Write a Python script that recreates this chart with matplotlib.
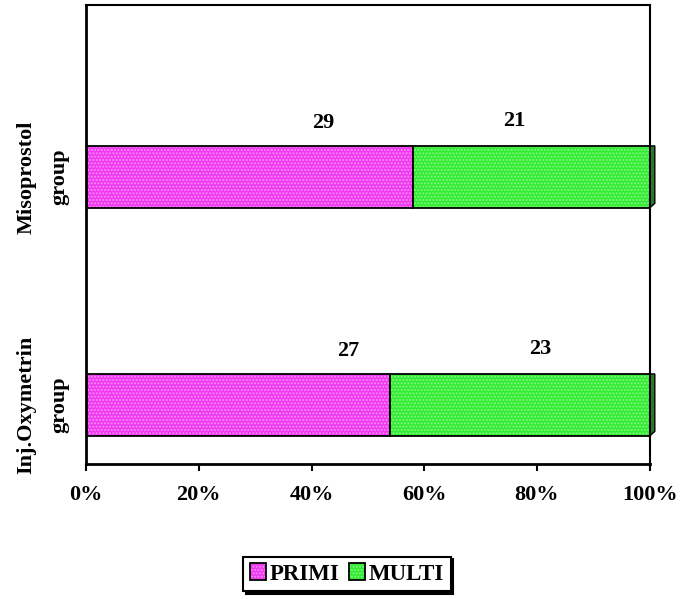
import numpy as np
import matplotlib.pyplot as plt
from matplotlib.patches import Polygon

plt.rcParams['font.family'] = ['Liberation Serif', 'DejaVu Serif']
plt.rcParams['font.weight'] = 'bold'

groups = ['Inj.Oxymetrin\ngroup', 'Misoprostol\ngroup']
primi = np.array([27, 29])
multi = np.array([23, 21])
series = ['PRIMI', 'MULTI']
colors = ['#f038f0', '#30ec30']
xticks = [0, 20, 40, 60, 80, 100]

# where the count labels sit along each bar (percent of axis)
primi_lab_x = [46.5, 42]
multi_lab_x = [80.5, 76]

total = primi + multi
p_pct = primi / total * 100
m_pct = multi / total * 100

fig = plt.figure(figsize=(6.8, 5.99), dpi=100)
ax = fig.add_axes([0.1265, 0.2254, 0.829, 0.7663])

y = np.arange(len(groups))
h = 0.272
b1 = ax.barh(y, p_pct, height=h, color=colors[0], edgecolor='black', lw=1.3,
             hatch='.....', label=series[0])
b2 = ax.barh(y, m_pct, left=p_pct, height=h, color=colors[1], edgecolor='black',
             lw=1.3, hatch='.....', label=series[1])
for b in list(b1) + list(b2):
    b._hatch_color = (1, 1, 1, 0.4)

# little depth face at the end of each bar
d = 0.9
for yi, end in zip(y, p_pct + m_pct):
    ax.add_patch(Polygon([[end, yi - h / 2], [end + d, yi - h / 2 + 0.02],
                          [end + d, yi + h / 2], [end, yi + h / 2]],
                         closed=True, facecolor='#2a7a2a', edgecolor='black',
                         lw=1, clip_on=False))

for yi, v, lx in zip(y, primi, primi_lab_x):
    ax.text(lx, yi + h / 2 + 0.1, str(v), ha='center', va='center',
            fontsize=16, fontweight='bold')
for yi, v, lx in zip(y, multi, multi_lab_x):
    ax.text(lx, yi + h / 2 + 0.11, str(v), ha='center', va='center',
            fontsize=16, fontweight='bold')

ax.set_xlim(0, 100)
ax.set_ylim(-0.259, 1.754)
ax.set_xticks(xticks)
ax.set_xticklabels([f'{t}%' for t in xticks], fontsize=16, fontweight='bold')
ax.set_yticks(y)
ax.set_yticklabels(groups, rotation=90, va='center', ha='center',
                   fontsize=16, fontweight='bold', linespacing=1.85)
ax.tick_params(axis='y', length=0, pad=31)
ax.tick_params(axis='x', length=5, width=1.5, direction='out', pad=10)
for s in ax.spines.values():
    s.set_linewidth(1.5)
ax.spines['left'].set_linewidth(2)
ax.spines['bottom'].set_linewidth(2)

leg = fig.legend(handles=[b1, b2], labels=series, loc='center',
                 bbox_to_anchor=(347 / 680, 1 - 574 / 599), ncol=2,
                 frameon=True, fancybox=False, edgecolor='black',
                 shadow={'color': 'black', 'alpha': 1, 'ox': 2, 'oy': -2},
                 prop={'weight': 'bold', 'size': 16.5},
                 handlelength=0.7, handleheight=0.7, handletextpad=0.15,
                 columnspacing=0.4, borderpad=0.3)
leg.get_frame().set_linewidth(1.5)

fig.savefig('out.png', dpi=100)
